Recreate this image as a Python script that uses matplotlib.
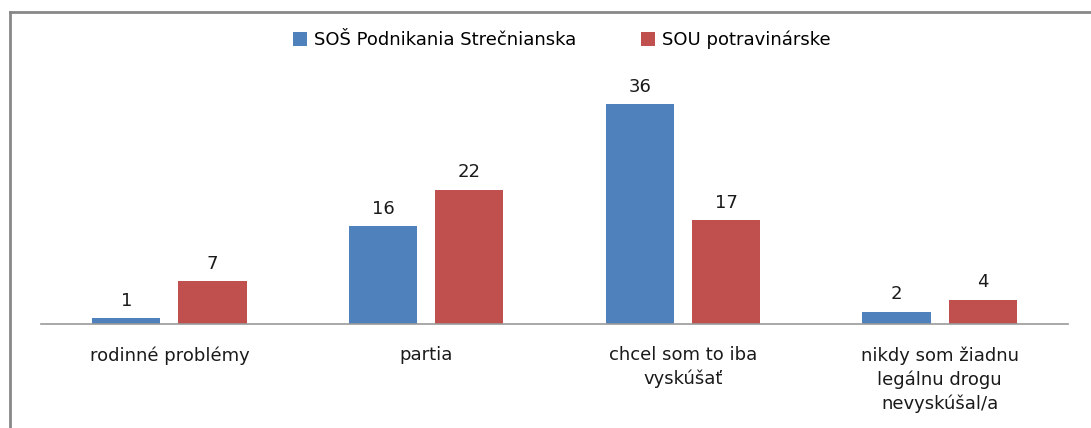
import matplotlib
matplotlib.use("Agg")
import matplotlib.pyplot as plt
from matplotlib.lines import Line2D
import numpy as np

categories = ["rodinné problémy", "partia", "chcel som to iba\nvyskúšať",
              "nikdy som žiadnu\nlegálnu drogu\nnevyskúšal/a"]
series_names = ["SOŠ Podnikania Strečnianska", "SOU potravinárske"]
sos_values = [1, 16, 36, 2]
sou_values = [7, 22, 17, 4]
colors = ["#4F81BD", "#C0504D"]

plt.rcParams['font.family'] = ['DejaVu Sans']

fig = plt.figure(figsize=(10.91, 4.28), dpi=100)
ax = fig.add_axes([41/1091, (428-324)/428, (1068-41)/1091, 244/428])

x = np.arange(len(categories))
w = 0.265
off = 0.168
for vals, o, c, name in [(sos_values, -off, colors[0], series_names[0]),
                         (sou_values, off, colors[1], series_names[1])]:
    bars = ax.bar(x + o, vals, width=w, color=c, label=name)
    for b, v in zip(bars, vals):
        ax.annotate(str(v), (b.get_x() + b.get_width()/2, v), xytext=(0, 6),
                    textcoords="offset points", ha="center", va="bottom",
                    fontsize=13, color="#1a1a1a")

ax.set_xlim(-0.5, 3.5)
ax.set_ylim(0, 40)
ax.set_yticks([])
ax.set_xticks(x)
ax.set_xticklabels(categories, fontsize=13, color="#1a1a1a", linespacing=1.38)
ax.tick_params(axis="x", length=0, pad=16)
for s in ["top", "right", "left"]:
    ax.spines[s].set_visible(False)
ax.spines["bottom"].set_color("#999999")
ax.spines["bottom"].set_linewidth(1.2)

leg = fig.legend(loc="center", bbox_to_anchor=(562/1091, 1 - 40/428), ncol=2,
                 frameon=False, fontsize=13, handlelength=0.75, handleheight=0.75,
                 columnspacing=3.6, handletextpad=0.4)

# outer frame (left and top visible)
fig.add_artist(Line2D([10/1091, 10/1091], [0, 1 - 12/428], transform=fig.transFigure,
                      color="#888888", linewidth=2))
fig.add_artist(Line2D([10/1091, 1], [1 - 12/428, 1 - 12/428], transform=fig.transFigure,
                      color="#888888", linewidth=2))

fig.savefig("out.png", dpi=100)
